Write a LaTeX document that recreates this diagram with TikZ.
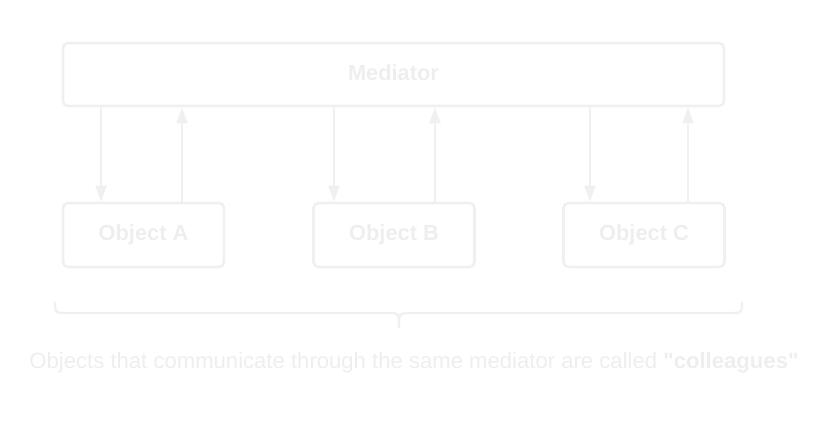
\documentclass[tikz,border=0pt]{standalone}
\usepackage{fontspec}
\setmainfont{Liberation Sans}[Ligatures=TeXOff]
\usepackage{tikz}
\usetikzlibrary{arrows.meta, positioning, calc}
\definecolor{mlight}{HTML}{F0F0F0}
\definecolor{mtext}{HTML}{EEEEEE}
\tikzset{
  objbox/.style={draw=mlight, line width=2.6pt, rounded corners=5pt, inner sep=0pt,
    minimum width=161pt, minimum height=64pt, text depth=4pt,
    font=\bfseries\fontsize{21.8}{24}\selectfont, text=mtext},
  msgarrow/.style={draw=mlight, line width=2pt, -{Triangle[length=16pt, width=11pt]}},
}

\begin{document}
\begin{tikzpicture}[x=1pt, y=-1pt]
  \useasboundingbox (0,0) rectangle (823,425);

  %% Mediator
  \node[objbox, minimum width=661pt, minimum height=63pt] (med) at (393.5,74.5) {Mediator};

  %% Colleagues
  \node[objbox] (a) at (143.5,235) {Object A};
  \node[objbox] (b) at (394,235) {Object B};
  \node[objbox] (c) at (644,235) {Object C};

  \coordinate (a-in)  at ([xshift=-42.5pt]a.north);
  \coordinate (a-out) at ([xshift=38.5pt]a.north);
  \coordinate (b-in)  at ([xshift=-60pt]b.north);
  \coordinate (b-out) at ([xshift=41pt]b.north);
  \coordinate (c-in)  at ([xshift=-54pt]c.north);
  \coordinate (c-out) at ([xshift=44pt]c.north);

  \foreach \o in {a,b,c}{
    \draw[msgarrow] (med.south -| \o-in) -- (\o-in);
    \draw[msgarrow] (\o-out) -- (med.south -| \o-out);
  }

  %% Brace under the objects
  \draw[mlight, line width=2.4pt]
    (55,302) .. controls (55,313) .. (66,313) -- (388,313)
    .. controls (399,313) .. (399,328) .. controls (399,313) .. (410,313)
    -- (731,313) .. controls (742,313) .. (742,302);
  \node[font=\fontsize{22.1}{24}\selectfont, text=mtext] (note) at (414,362.5)
    {Objects that communicate through the same mediator are called \textbf{"colleagues"}};

\end{tikzpicture}
\end{document}
